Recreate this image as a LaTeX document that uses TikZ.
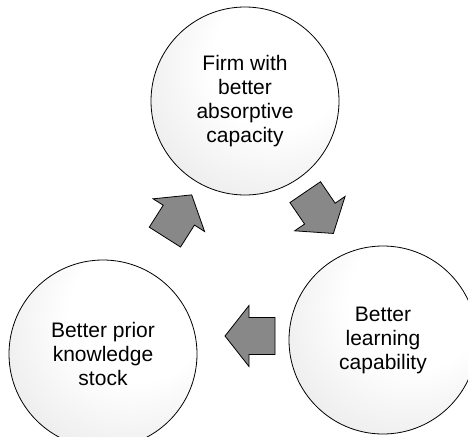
\documentclass[tikz,border=0pt]{standalone}
\usepackage{fontspec}
\setmainfont{Liberation Sans}
\definecolor{arrowgray}{RGB}{136,136,136}
\pgfdeclareradialshading{orbshade}{\pgfpoint{12bp}{14bp}}{color(0bp)=(white); color(18bp)=(white); color(45bp)=(black!11); color(70bp)=(black!24)}
\tikzset{
  orb/.style={circle, draw=black, line width=0.8pt, shading=orbshade, minimum size=188pt, inner sep=0pt,
    align=center, font=\fontsize{21}{24}\selectfont},
  arrowbody/.style={draw=black, line width=0.8pt, fill=arrowgray, line join=miter},
  blockarrow/.pic={\path[arrowbody] (25,0) -- (1,30.5) -- (1,18.5) -- (-25,18.5) -- (-25,-18.5) -- (1,-18.5) -- (1,-30.5) -- cycle;}
}
\begin{document}
\begin{tikzpicture}[x=1pt,y=-1pt]
\useasboundingbox (0,0) rectangle (468,436);
\clip (0,0) rectangle (468,436);
\node[orb] (top) at (245,101) {Firm with\\better\\absorptive\\capacity};
\node[orb] (left) at (103,354) {Better prior\\knowledge\\stock};
\node[orb] (right) at (383,340) {Better\\learning\\capability};
\coordinate (aleft) at (178.3,216);
\coordinate (aright) at (319.3,212.8);
\coordinate (abottom) at (250,336);
\pic[rotate=57.6] at (aleft) {blockarrow};
\pic[rotate=-55.7] at (aright) {blockarrow};
\pic[rotate=180] at (abottom) {blockarrow};
\end{tikzpicture}
\end{document}
